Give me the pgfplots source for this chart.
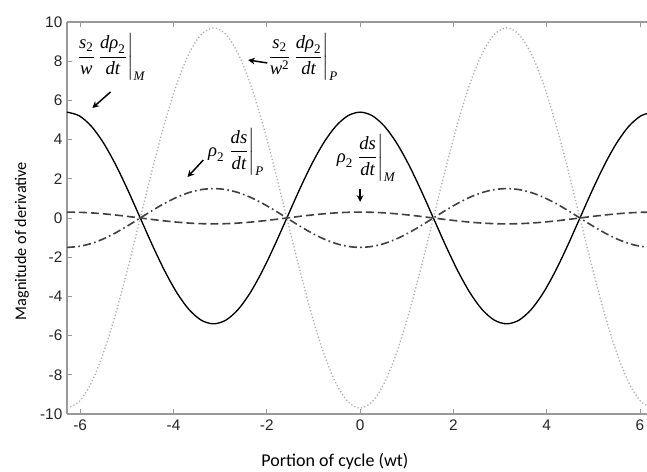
\documentclass[border=0pt]{standalone}
\usepackage{fontspec}
\setmainfont{Liberation Sans}
\newfontfamily\calibri{Carlito}
\newfontfamily\tms{Liberation Serif}
\usepackage{amsmath}
\usepackage{pgfplots}
\pgfplotsset{compat=1.18}
\usetikzlibrary{calc,arrows.meta}

\newcommand\ti[1]{\text{\tms\itshape #1}}
\newcommand\tu[1]{\text{\tms #1}}

% x in rad, four derivative terms over two cycles
\pgfplotstableread{
x       sol     dot     dd      da
-6.2832  5.400  -9.700  -1.500   0.300
-6.0214  5.216  -9.369  -1.449   0.290
-5.7596  4.677  -8.400  -1.299   0.260
-5.4978  3.818  -6.859  -1.061   0.212
-5.2360  2.700  -4.850  -0.750   0.150
-4.9742  1.398  -2.510  -0.388   0.078
-4.7124  0.000   0.000   0.000   0.000
-4.4506 -1.398   2.510   0.388  -0.078
-4.1888 -2.700   4.850   0.750  -0.150
-3.9270 -3.818   6.859   1.061  -0.212
-3.6652 -4.677   8.400   1.299  -0.260
-3.4034 -5.216   9.369   1.449  -0.290
-3.1416 -5.400   9.700   1.500  -0.300
-2.8798 -5.216   9.369   1.449  -0.290
-2.6180 -4.677   8.400   1.299  -0.260
-2.3562 -3.818   6.859   1.061  -0.212
-2.0944 -2.700   4.850   0.750  -0.150
-1.8326 -1.398   2.510   0.388  -0.078
-1.5708  0.000   0.000   0.000   0.000
-1.3090  1.398  -2.510  -0.388   0.078
-1.0472  2.700  -4.850  -0.750   0.150
-0.7854  3.818  -6.859  -1.061   0.212
-0.5236  4.677  -8.400  -1.299   0.260
-0.2618  5.216  -9.369  -1.449   0.290
 0.0000  5.400  -9.700  -1.500   0.300
 0.2618  5.216  -9.369  -1.449   0.290
 0.5236  4.677  -8.400  -1.299   0.260
 0.7854  3.818  -6.859  -1.061   0.212
 1.0472  2.700  -4.850  -0.750   0.150
 1.3090  1.398  -2.510  -0.388   0.078
 1.5708  0.000   0.000   0.000   0.000
 1.8326 -1.398   2.510   0.388  -0.078
 2.0944 -2.700   4.850   0.750  -0.150
 2.3562 -3.818   6.859   1.061  -0.212
 2.6180 -4.677   8.400   1.299  -0.260
 2.8798 -5.216   9.369   1.449  -0.290
 3.1416 -5.400   9.700   1.500  -0.300
 3.4034 -5.216   9.369   1.449  -0.290
 3.6652 -4.677   8.400   1.299  -0.260
 3.9270 -3.818   6.859   1.061  -0.212
 4.1888 -2.700   4.850   0.750  -0.150
 4.4506 -1.398   2.510   0.388  -0.078
 4.7124  0.000   0.000   0.000   0.000
 4.9742  1.398  -2.510  -0.388   0.078
 5.2360  2.700  -4.850  -0.750   0.150
 5.4978  3.818  -6.859  -1.061   0.212
 5.7596  4.677  -8.400  -1.299   0.260
 6.0214  5.216  -9.369  -1.449   0.290
 6.2832  5.400  -9.700  -1.500   0.300
}\data

\begin{document}
\begin{tikzpicture}
\begin{axis}[
  name=ax,
  scale only axis,
  width=435pt, height=294pt,
  xmin=-6.2832, xmax=6.15,
  ymin=-10, ymax=10,
  axis x line=box, axis y line*=left,
  axis line style={gray!80, line width=0.8pt},
  xtick={-6,-4,...,6}, ytick={-10,-8,...,10},
  tick style={gray!80, line width=0.6pt},
  major tick length=4pt,
  tick align=inside,
  /pgf/number format/assume math mode=true,
  tick label style={font=\fontsize{11.5}{13}\selectfont, text=black!85},
  xticklabel style={yshift=-1pt},
  xlabel={\calibri Portion of cycle (wt)},
  ylabel={\calibri Magnitude of derivative},
  xlabel style={at={(axis description cs:0.462,0)}, anchor=center, yshift=-35.25pt, font=\fontsize{13.5}{15}\selectfont},
  ylabel style={at={(axis description cs:-0.078,0.441)}, anchor=center, rotate=0, font=\fontsize{12.2}{14}\selectfont},
  every axis plot/.append style={smooth},
  clip=true,
]
\addplot[black, line width=1pt] table[x=x, y=sol] {\data};
\addplot[gray!65, line width=1pt, dash pattern=on 0.9pt off 1.7pt] table[x=x, y=dot] {\data};
\addplot[black!75, line width=1.2pt, dash pattern=on 6pt off 2.5pt on 1.2pt off 2.5pt] table[x=x, y=dd] {\data};
\addplot[black!75, line width=1.2pt, dash pattern=on 6pt off 3pt] table[x=x, y=da] {\data};

\node[font=\fontsize{14}{16}\selectfont] at (axis cs:-5.35,8.2)
  {$\displaystyle \left.\frac{\ti{s}_{\tu{2}}}{\ti{w}}\,\frac{\ti{dρ}_{\tu{2}}}{\ti{dt}}\right|_{\ti{M}}$};
\node[font=\fontsize{14}{16}\selectfont] at (axis cs:-1.24,8.2)
  {$\displaystyle \left.\frac{\ti{s}_{\tu{2}}}{\ti{w}^{\tu{2}}}\,\frac{\ti{dρ}_{\tu{2}}}{\ti{dt}}\right|_{\ti{P}}$};
\node[font=\fontsize{14}{16}\selectfont] at (axis cs:-2.66,3.37)
  {$\displaystyle \ti{ρ}_{\tu{2}}\left.\frac{\ti{ds}}{\ti{dt}}\right|_{\ti{P}}$};
\node[font=\fontsize{14}{16}\selectfont] at (axis cs:0.13,3.06)
  {$\displaystyle \ti{ρ}_{\tu{2}}\left.\frac{\ti{ds}}{\ti{dt}}\right|_{\ti{M}}$};

\draw[-{Stealth[length=5pt,width=5pt]}, line width=1.1pt] (axis cs:-5.35,6.43) -- (axis cs:-5.74,5.61);
\draw[-{Stealth[length=5pt,width=5pt]}, line width=1.1pt] (axis cs:-1.99,7.91) -- (axis cs:-2.40,8.06);
\draw[-{Stealth[length=5pt,width=5pt]}, line width=1.1pt] (axis cs:-3.36,2.96) -- (axis cs:-3.70,2.09);
\draw[-{Stealth[length=5pt,width=5pt]}, line width=1.1pt] (axis cs:0,1.50) -- (axis cs:0,0.82);
\end{axis}
\pgfresetboundingbox
\path ($(ax.south west)+(-50.25pt,-43.5pt)$) rectangle ($(ax.north east)+(0pt,16.5pt)$);
\end{tikzpicture}
\end{document}
